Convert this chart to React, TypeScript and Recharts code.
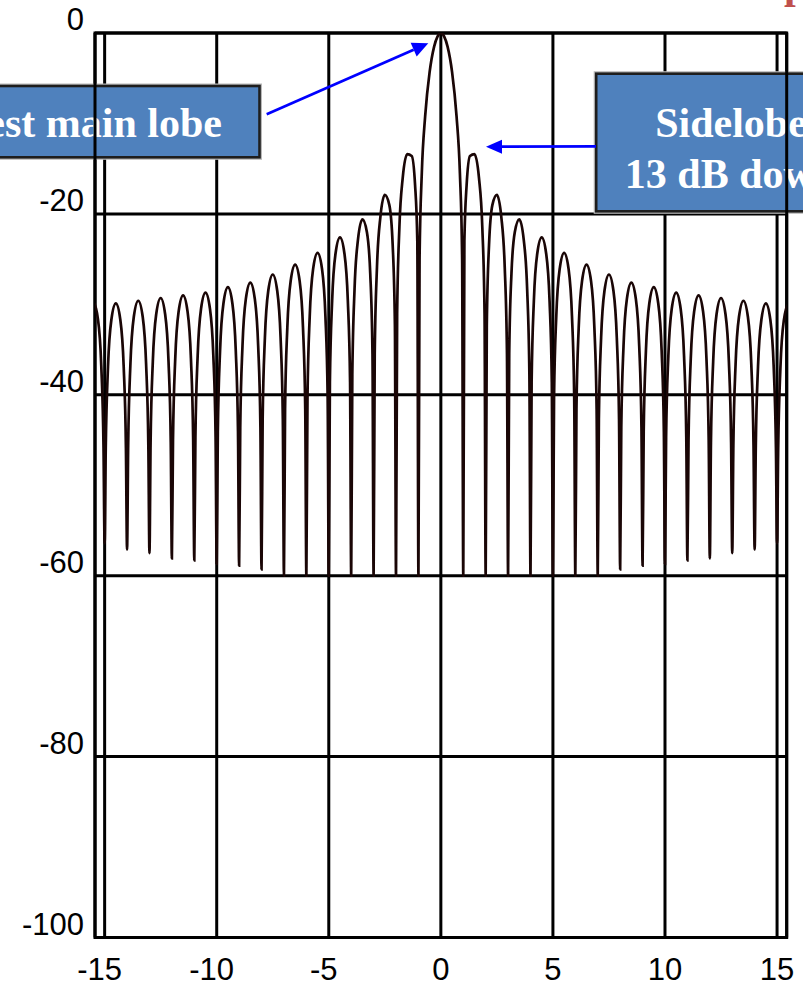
import React from "react";
import {
  LineChart,
  Line,
  XAxis,
  YAxis,
  CartesianGrid,
  ReferenceArea,
  Customized,
} from "recharts";

// ---- data ----
// x offset of each sample inside a one-unit interval [k, k+1]
const sampleOffsets = [0, 0.05, 0.15, 0.3, 0.5, 0.7, 0.85, 0.95];

// starting x of each one-unit interval
const intervalStarts = [
  -16, -15, -14, -13, -12, -11, -10, -9, -8, -7, -6, -5, -4, -3, -2, -1,
  0, 1, 2, 3, 4, 5, 6, 7, 8, 9, 10, 11, 12, 13, 14, 15,
];

// dB level at each sample (rows follow intervalStarts, columns follow sampleOffsets)
const intervalLevels = [
  [-56.0, -45.8, -36.8, -31.6, -29.8, -31.6, -36.8, -45.8],
  [-56.4, -45.9, -36.9, -31.7, -29.9, -31.7, -36.9, -45.9],
  [-57.1, -45.6, -36.6, -31.4, -29.6, -31.4, -36.6, -45.6],
  [-57.5, -45.3, -36.3, -31.1, -29.3, -31.1, -36.3, -45.3],
  [-58.1, -45.0, -36.0, -30.8, -29.0, -30.8, -36.0, -45.0],
  [-58.3, -44.7, -35.7, -30.5, -28.7, -30.5, -35.7, -44.7],
  [-58.7, -44.1, -35.1, -29.9, -28.1, -29.9, -35.1, -44.1],
  [-58.9, -43.6, -34.6, -29.4, -27.6, -29.4, -34.6, -43.6],
  [-59.3, -42.7, -33.7, -28.5, -26.7, -28.5, -33.7, -42.7],
  [-60.0, -41.6, -32.6, -27.4, -25.6, -27.4, -32.6, -41.6],
  [-60.0, -40.3, -31.3, -26.1, -24.3, -26.1, -31.3, -40.3],
  [-60.0, -38.6, -29.6, -24.4, -22.6, -24.4, -29.6, -38.6],
  [-60.0, -37.8, -28.3, -22.9, -20.6, -22.0, -26.6, -35.5],
  [-60.0, -35.5, -25.9, -20.4, -17.9, -19.0, -23.4, -32.3],
  [-60.0, -31.0, -21.5, -16.0, -13.4, -13.6, -16.8, -23.0],
  [-60.0, -25.0, -15.5, -9.2, -4.3, -1.5, -0.4, -0.05],
  [0.0, -0.05, -0.4, -1.5, -4.3, -9.2, -15.5, -25.0],
  [-60.0, -23.0, -16.8, -13.6, -13.4, -16.0, -21.5, -31.0],
  [-60.0, -32.3, -23.4, -19.0, -17.9, -20.4, -25.9, -35.5],
  [-60.0, -35.5, -26.6, -22.0, -20.6, -22.9, -28.3, -37.8],
  [-60.0, -38.6, -29.6, -24.4, -22.6, -24.4, -29.6, -38.6],
  [-60.0, -40.3, -31.3, -26.1, -24.3, -26.1, -31.3, -40.3],
  [-60.0, -41.6, -32.6, -27.4, -25.6, -27.4, -32.6, -41.6],
  [-60.0, -42.7, -33.7, -28.5, -26.7, -28.5, -33.7, -42.7],
  [-59.3, -43.6, -34.6, -29.4, -27.6, -29.4, -34.6, -43.6],
  [-58.9, -44.1, -35.1, -29.9, -28.1, -29.9, -35.1, -44.1],
  [-58.7, -44.7, -35.7, -30.5, -28.7, -30.5, -35.7, -44.7],
  [-58.3, -45.0, -36.0, -30.8, -29.0, -30.8, -36.0, -45.0],
  [-58.1, -45.3, -36.3, -31.1, -29.3, -31.1, -36.3, -45.3],
  [-57.5, -45.6, -36.6, -31.4, -29.6, -31.4, -36.6, -45.6],
  [-57.1, -45.9, -36.9, -31.7, -29.9, -31.7, -36.9, -45.9],
  [-56.4, -46.0, -37.0, -31.8, -30.0, -31.8, -37.0, -46.0],
];

const xTicks = [-15, -10, -5, 0, 5, 10, 15];
const yTicks = [-100, -80, -60, -40, -20, 0];
const xDomain = [-15.43, 15.43];
const yDomain = [-100, 0];

const mainLobeLabel = "Highest main lobe";
const sidelobeLabel = ["Sidelobe", "13 dB down"];
const titleFragment = "p";

const data = intervalStarts.flatMap((k, i) =>
  sampleOffsets.map((o, j) => ({
    x: Math.round((k + o) * 100) / 100,
    db: intervalLevels[i][j],
  }))
);

const TICK_FONT = "'Liberation Sans', Arial, Helvetica, sans-serif";
const BOX_FONT = "'Liberation Serif', 'Times New Roman', Times, serif";

const PLOT_LEFT = 95;
const PLOT_BOTTOM = 937.5;

const renderXTick = (props: any) => {
  const { x, payload } = props;
  const v = payload.value;
  return (
    <text
      key={`xt-${v}`}
      x={x + (v < 0 ? -5 : 0)}
      y={PLOT_BOTTOM + 42.5}
      textAnchor="middle"
      fontFamily={TICK_FONT}
      fontSize={31}
      fill="#000"
    >
      {String(v)}
    </text>
  );
};

const renderYTick = (props: any) => {
  const { y, payload } = props;
  return (
    <text
      key={`yt-${payload.value}`}
      x={PLOT_LEFT - 11}
      y={y - 3}
      textAnchor="end"
      fontFamily={TICK_FONT}
      fontSize={31}
      fill="#000"
    >
      {String(payload.value)}
    </text>
  );
};

function arrowHead(sx: number, sy: number, tx: number, ty: number, len: number, half: number) {
  const dx = tx - sx;
  const dy = ty - sy;
  const L = Math.sqrt(dx * dx + dy * dy);
  const ux = dx / L;
  const uy = dy / L;
  const bx = tx - ux * len;
  const by = ty - uy * len;
  const nx = -uy;
  const ny = ux;
  return {
    bx,
    by,
    pts: `${tx},${ty} ${bx + nx * half},${by + ny * half} ${bx - nx * half},${by - ny * half}`,
  };
}

const Annotations = () => {
  const a1 = { sx: 266.7, sy: 114.3, tx: 428.3, ty: 43.3 };
  const a2 = { sx: 596, sy: 146.3, tx: 486, ty: 146.7 };
  const h1 = arrowHead(a1.sx, a1.sy, a1.tx, a1.ty, 16, 7.5);
  const h2 = arrowHead(a2.sx, a2.sy, a2.tx, a2.ty, 16, 7);
  return (
    <g>
      {/* left box */}
      <rect x={-141} y={86} width={400.5} height={71.3} fill="none" stroke="#b8b8b8" strokeWidth={5} />
      <rect x={-141} y={86} width={400.5} height={71.3} fill="#4F81BD" stroke="#1e1e1e" strokeWidth={2.6} />
      <text
        x={222}
        y={136.7}
        textAnchor="end"
        fill="#ffffff"
        fontFamily={BOX_FONT}
        fontWeight="bold"
        fontSize={42}
      >
        {mainLobeLabel}
      </text>
      {/* right box */}
      <rect x={596.2} y={73.7} width={300} height={137.6} fill="none" stroke="#b8b8b8" strokeWidth={5} />
      <rect x={596.2} y={73.7} width={300} height={137.6} fill="#4F81BD" stroke="#1e1e1e" strokeWidth={2.6} />
      <text
        x={731}
        y={136.7}
        textAnchor="middle"
        fill="#ffffff"
        fontFamily={BOX_FONT}
        fontWeight="bold"
        fontSize={42}
      >
        {sidelobeLabel[0]}
      </text>
      <text
        x={731}
        y={188.3}
        textAnchor="middle"
        fill="#ffffff"
        fontFamily={BOX_FONT}
        fontWeight="bold"
        fontSize={42}
      >
        {sidelobeLabel[1]}
      </text>
      {/* arrows */}
      <line x1={a1.sx} y1={a1.sy} x2={h1.bx} y2={h1.by} stroke="#0000ff" strokeWidth={2.7} />
      <polygon points={h1.pts} fill="#0000ff" />
      <line x1={a2.sx} y1={a2.sy} x2={h2.bx} y2={h2.by} stroke="#0000ff" strokeWidth={2.7} />
      <polygon points={h2.pts} fill="#0000ff" />
      {/* cut-off title fragment */}
      <text
        x={784}
        y={-1.8}
        fill="#C0504D"
        fontFamily={BOX_FONT}
        fontWeight="bold"
        fontSize={42}
      >
        {titleFragment}
      </text>
    </g>
  );
};

export default function App() {
  return (
    <div
      style={{
        position: "absolute",
        left: 0,
        top: 0,
        width: 803,
        height: 986,
        background: "#fff",
      }}
    >
      <LineChart
        width={803}
        height={986}
        data={data}
        margin={{ top: 33, right: 16.3, bottom: 8.5, left: 15 }}
      >
        <CartesianGrid stroke="#000" strokeWidth={3} />
        <XAxis
          type="number"
          dataKey="x"
          domain={xDomain}
          allowDataOverflow
          ticks={xTicks}
          interval={0}
          height={40}
          tickSize={0}
          tickMargin={0}
          axisLine={false}
          tickLine={false}
          tick={renderXTick}
        />
        <YAxis
          type="number"
          domain={yDomain}
          allowDataOverflow
          ticks={yTicks}
          interval={0}
          width={80}
          tickSize={0}
          tickMargin={0}
          axisLine={false}
          tickLine={false}
          tick={renderYTick}
        />
        <ReferenceArea
          x1={xDomain[0]}
          x2={xDomain[1]}
          y1={yDomain[0]}
          y2={yDomain[1]}
          fill="none"
          fillOpacity={0}
          stroke="#000"
          strokeWidth={3}
        />
        <Line
          type="monotone"
          dataKey="db"
          stroke="#1a0606"
          strokeWidth={2.7}
          dot={false}
          activeDot={false}
          isAnimationActive={false}
        />
        <Customized component={<Annotations />} />
      </LineChart>
    </div>
  );
}
